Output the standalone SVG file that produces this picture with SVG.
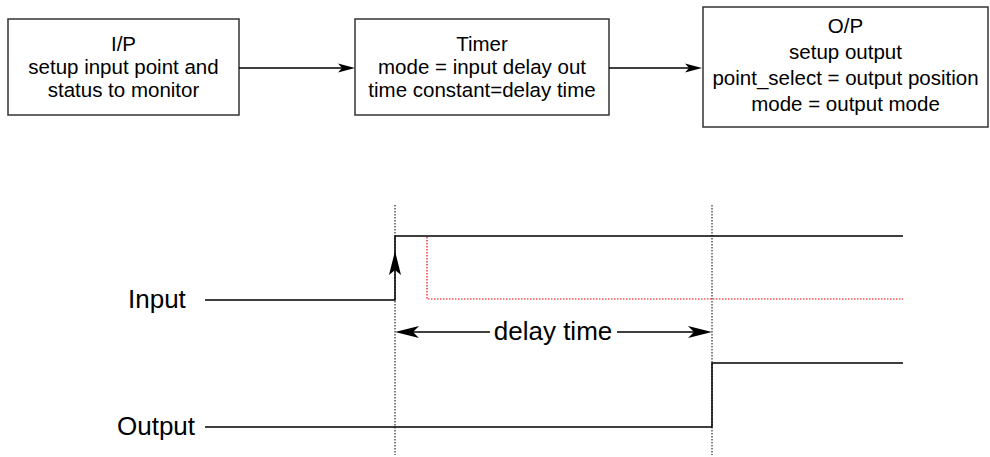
<svg xmlns="http://www.w3.org/2000/svg" width="990" height="457" viewBox="0 0 990 457">
<style>
.box{fill:#fff;stroke:#333;stroke-width:1.5}
.bt{font-family:"Liberation Sans",Arial,sans-serif;font-size:20.5px;fill:#000;text-anchor:middle}
.lbl{font-family:"Liberation Sans",Arial,sans-serif;font-size:26px;fill:#000}
.ln{fill:none;stroke:#000;stroke-width:1.5}
.dot{fill:none;stroke:#000;stroke-width:1;stroke-dasharray:1.5 1.5}
.red{fill:none;stroke:#f00;stroke-width:1.2;stroke-dasharray:1.5 1.5}
.ah{fill:#000;stroke:none}
</style>
<rect width="990" height="457" fill="#fff"/>
<g id="node-ip">
<rect class="box" x="8" y="19" width="231" height="96"/>
<text class="bt" x="123.5" y="51">I/P</text>
<text class="bt" x="123.5" y="74">setup input point and</text>
<text class="bt" x="123.5" y="97">status to monitor</text>
</g>
<g id="node-timer">
<rect class="box" x="355" y="19" width="254" height="96"/>
<text class="bt" x="482" y="51">Timer</text>
<text class="bt" x="482" y="74">mode = input delay out</text>
<text class="bt" x="482" y="97">time constant=delay time</text>
</g>
<g id="node-op">
<rect class="box" x="703" y="7" width="285" height="120"/>
<text class="bt" x="845.5" y="33">O/P</text>
<text class="bt" x="845.5" y="59">setup output</text>
<text class="bt" x="845.5" y="85">point_select = output position</text>
<text class="bt" x="845.5" y="111">mode = output mode</text>
</g>
<g id="connectors">
<line class="ln" x1="239" y1="68" x2="345" y2="68"/>
<polygon class="ah" points="355,68 338,63.5 342,68 338,72.5"/>
<line class="ln" x1="609" y1="68" x2="692" y2="68"/>
<polygon class="ah" points="702,68 685,63.5 689,68 685,72.5"/>
</g>
<g id="timing">
<line class="dot" x1="395" y1="205" x2="395" y2="455"/>
<line class="dot" x1="712" y1="205" x2="712" y2="455"/>
<polyline class="red" points="427,237 427,299 903,299"/>
<polyline class="ln" points="205,300 395,300 395,236 903,236"/>
<polygon class="ah" points="395,251 389,275 395,270 401,275"/>
<polyline class="ln" points="205,427 712,427 712,363 903,363"/>
<line class="ln" x1="400" y1="332" x2="490" y2="332"/>
<line class="ln" x1="617" y1="332" x2="707" y2="332"/>
<polygon class="ah" points="395,332 419,326 413,332 419,338"/>
<polygon class="ah" points="712,332 688,326 694,332 688,338"/>
<text class="lbl" x="553" y="340" text-anchor="middle">delay time</text>
<text class="lbl" x="128" y="308">Input</text>
<text class="lbl" x="117" y="435">Output</text>
</g>
</svg>
